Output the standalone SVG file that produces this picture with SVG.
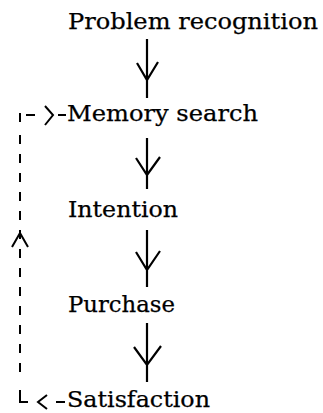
<svg xmlns="http://www.w3.org/2000/svg" width="323" height="413" viewBox="0 0 323 413">
  <style>
    .label { font-family: "DejaVu Serif", "Liberation Serif", serif; font-size: 22px; fill: #000; stroke: #000; stroke-width: 0.25; }
    .flow { stroke: #000; stroke-width: 2.2; fill: none; stroke-linecap: butt; stroke-linejoin: miter; }
    .loop { stroke: #000; stroke-width: 2; fill: none; }
    .loop-dash { stroke-dasharray: 9 10; }
  </style>
  <rect width="323" height="413" fill="#fff"/>

  <g id="problem-recognition">
    <text class="label" x="68" y="29" textLength="250" lengthAdjust="spacingAndGlyphs">Problem recognition</text>
  </g>
  <g id="memory-search">
    <text class="label" x="67" y="121" textLength="191" lengthAdjust="spacingAndGlyphs">Memory search</text>
  </g>
  <g id="intention">
    <text class="label" x="68" y="217" textLength="110" lengthAdjust="spacingAndGlyphs">Intention</text>
  </g>
  <g id="purchase">
    <text class="label" x="68" y="312" textLength="107" lengthAdjust="spacingAndGlyphs">Purchase</text>
  </g>
  <g id="satisfaction">
    <text class="label" x="67" y="407" textLength="143" lengthAdjust="spacingAndGlyphs">Satisfaction</text>
  </g>

  <g id="connectors">
    <!-- main downward flow -->
    <path class="flow" d="M147 39 V98 M137 63 L147 80 L158 62"/>
    <path class="flow" d="M147 138 V189 M136 158 L147 175 L160 157"/>
    <path class="flow" d="M147 230 V287 M136 252 L147 270 L160 251"/>
    <path class="flow" d="M147 323 V382 M134 347 L147 365 L161 346"/>

    <!-- dashed feedback loop from Satisfaction back to Memory search -->
    <path class="loop loop-dash" d="M20 135 V380"/>
    <path class="loop" d="M20 113 V122 M26 115 H35 M58 115 H66"/>
    <path class="loop" d="M45 106 L53 115 L45 125" stroke-width="2.6"/>
    <path class="loop" d="M12 247 L20 233 L28 247" stroke-width="2.4"/>
    <path class="loop" d="M20 390 V402 H28 M56 402 H65"/>
    <path class="loop" d="M47 395 L38 402 L47 409" stroke-width="2.2"/>
  </g>
</svg>
